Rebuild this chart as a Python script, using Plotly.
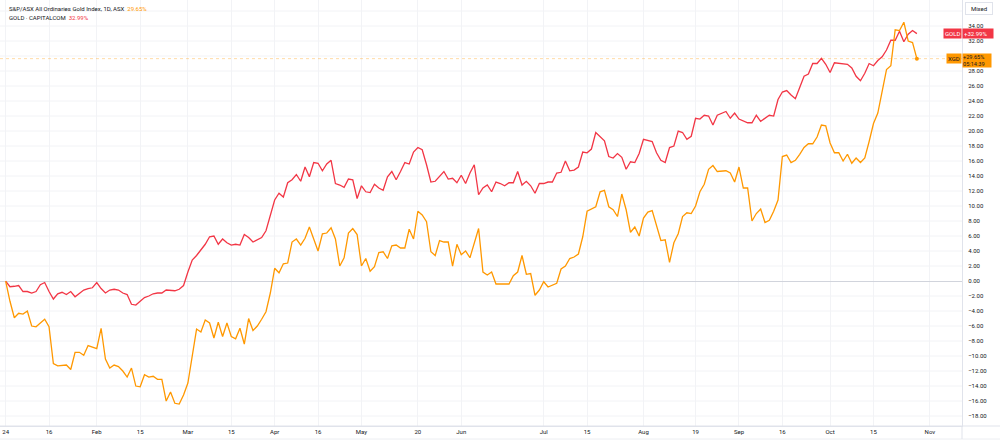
import pandas as pd
import plotly.graph_objects as go

# ---------------- data ----------------
asx_holidays = ["2024-01-26", "2024-03-29", "2024-04-01", "2024-04-25", "2024-06-10"]
dates = pd.bdate_range("2024-01-02", "2024-10-29", freq="C", holidays=asx_holidays)
dates = [d.strftime("%Y-%m-%d") for d in dates]

# S&P/ASX All Ordinaries Gold Index (XGD), % change
xgd = [
    0.0, -2.7, -4.9, -4.3, -4.4, -4.0, -6.0, -6.1, -5.6, -5.1,
    -6.1, -11.0, -11.3, -11.2, -11.2, -11.8, -9.5, -9.5, -9.9, -8.6,
    -8.8, -9.0, -6.3, -10.4, -11.6, -11.2, -11.4, -12.0, -12.8, -11.6,
    -14.0, -14.1, -12.5, -12.8, -12.7, -13.1, -13.1, -16.0, -14.8, -16.3,
    -16.4, -15.2, -13.6, -10.1, -6.4, -6.8, -5.2, -5.6, -7.6, -5.5,
    -7.4, -5.6, -7.4, -7.7, -6.3, -8.4, -5.0,
    -6.6, -6.0, -5.1, -4.1, -1.6, 1.7, 1.1, 2.3, 2.4, 5.2,
    5.6, 4.8, 5.7, 7.2, 5.6, 4.0, 6.3, 6.4, 7.1, 5.6,
    2.0, 3.1, 6.4, 7.0, 6.2, 2.0, 3.0, 1.3, 1.9, 3.8,
    3.9, 3.0, 4.7, 4.8, 4.4, 4.4, 6.9, 5.6, 9.3, 8.8,
    7.9, 3.9, 3.4, 5.4, 5.2, 5.2, 2.0, 4.9, 3.5, 4.0,
    3.1, 5.2, 7.0, 1.2, 0.8, 1.2, -0.4, -0.4,
    -0.4, -0.4, 0.7, 1.2, 3.4, 0.9, 1.0, -1.9, -1.2, -0.1,
    -0.8, -0.6, -0.3, 1.6, 2.0, 3.0, 3.2, 3.6, 5.9, 9.3,
    9.6, 9.9, 11.9, 12.1, 9.9, 9.5, 8.6, 11.6, 9.5, 6.5,
    7.2, 6.0, 8.4, 9.2, 9.4, 7.5, 5.4, 5.5, 2.5, 5.1,
    6.3, 8.6, 9.1, 9.0, 10.0, 11.9, 12.9, 14.9, 15.4, 14.6, 14.7,
    14.7, 14.4, 13.2, 15.2, 12.4, 12.4, 8.0, 9.0, 9.6, 7.8,
    8.1, 9.3, 10.8, 16.6, 16.8, 15.8, 16.1, 16.9, 17.8, 18.3,
    18.3, 19.2, 20.8, 20.7, 18.4, 17.1, 17.1, 16.0, 16.9, 15.7,
    16.4, 15.8, 16.4, 18.6, 21.0, 22.4, 25.2, 28.2, 28.7, 33.5,
    33.4, 34.5, 32.0, 31.8, 29.65,
]

# GOLD (CAPITALCOM), % change
gold = [
    0.0, -0.76, -0.7, -0.6, -1.4, -1.4, -1.6, -1.4, -0.5, -0.2,
    -1.4, -2.4, -1.7, -1.5, -1.8, -1.4, -2.1, -1.7, -1.2, -1.0,
    -0.9, -0.2, -1.0, -1.6, -1.2, -1.1, -1.2, -1.6, -1.8, -3.1,
    -3.2, -2.7, -2.2, -2.0, -1.7, -1.6, -1.6, -1.2, -1.3, -1.3,
    -1.1, -0.6, 1.2, 2.8, 3.4, 4.2, 4.9, 5.9, 6.0, 4.9,
    5.6, 5.1, 4.8, 4.9, 4.8, 6.2, 5.8,
    5.2, 5.5, 5.8, 6.7, 8.6, 10.8, 11.7, 11.2, 13.1, 13.5,
    14.2, 13.3, 15.2, 13.9, 15.8, 15.7, 14.7, 15.6, 16.1, 13.0,
    12.8, 12.5, 13.6, 13.5, 11.0, 12.7, 11.9, 11.8, 12.9, 12.4,
    12.1, 13.9, 14.6, 13.5, 14.6, 15.8, 15.6, 17.2, 17.8, 17.5,
    15.5, 13.2, 13.3, 14.0, 14.6, 13.6, 13.7, 13.1, 14.1, 13.0,
    14.4, 15.5, 11.5, 12.4, 12.8, 11.9, 13.2, 13.0,
    12.7, 13.1, 13.1, 14.6, 12.8, 13.3, 12.7, 11.7, 13.0, 13.0,
    13.2, 13.2, 14.4, 14.5, 16.0, 14.7, 14.8, 15.2, 17.2, 17.1,
    17.6, 19.8, 19.3, 18.7, 16.6, 16.4, 17.0, 16.5, 14.9, 15.9,
    15.8, 17.0, 18.9, 18.8, 18.6, 17.1, 16.1, 15.8, 17.8, 18.0,
    20.0, 19.8, 18.9, 19.3, 21.7, 21.6, 22.1, 22.0, 20.8, 22.1, 22.3,
    22.6, 21.7, 22.4, 21.6, 21.3, 21.1, 21.1, 22.1, 21.3, 21.7,
    22.1, 22.0, 24.2, 25.2, 25.4, 24.8, 24.3, 25.8, 27.3, 27.6,
    29.0, 29.0, 29.7, 28.9, 27.8, 29.1, 29.0, 29.0, 28.9, 28.4,
    27.3, 26.7, 27.7, 29.0, 28.7, 29.4, 29.9, 30.8, 32.1, 32.1,
    33.3, 31.9, 32.9, 33.4, 32.99,
]

tick_dates = ["2024-01-02", "2024-01-16", "2024-02-01", "2024-02-15", "2024-03-01",
              "2024-03-15", "2024-04-02", "2024-04-16", "2024-05-01", "2024-05-20",
              "2024-06-03", "2024-07-01", "2024-07-15", "2024-08-01", "2024-08-19",
              "2024-09-02", "2024-09-16", "2024-10-01", "2024-10-15", "2024-11-01"]
tick_labels = ["24", "16", "Feb", "15", "Mar", "15", "Apr", "16", "May", "20",
               "Jun", "Jul", "15", "Aug", "19", "Sep", "16", "Oct", "15", "Nov"]

# price-scale labels (30% is hidden behind the XGD badge in the reference)
y_ticks = [v for v in range(-18, 35, 2) if v != 30]
y_grid = list(range(-18, 37, 2))

xgd_name = "S&amp;P/ASX All Ordinaries Gold Index, 1D, ASX"
gold_name = "GOLD · CAPITALCOM"
countdown = "05:14:39"

# ---------------- style ----------------
ORANGE = "#FF9800"
RED = "#F23645"
TXT = "#131722"
GRID = "#f2f3f6"
BORDER = "#e0e3eb"
FONT = "Roboto, Arial, sans-serif"

fig = go.Figure()
fig.add_trace(go.Scatter(x=dates, y=gold, mode="lines",
                         line=dict(color=RED, width=1.3), hoverinfo="skip"))
fig.add_trace(go.Scatter(x=dates, y=xgd, mode="lines",
                         line=dict(color=ORANGE, width=1.3), hoverinfo="skip"))
fig.add_trace(go.Scatter(x=[dates[-1]], y=[xgd[-1]], mode="markers",
                         marker=dict(color=ORANGE, size=4), hoverinfo="skip"))

PW, PH = 962.0, 426.0

fig.update_layout(
    width=1000, height=444,
    margin=dict(l=0, r=38, t=0, b=18),
    paper_bgcolor="white", plot_bgcolor="white",
    showlegend=False,
    font=dict(family=FONT, size=6, color=TXT),
    xaxis=dict(
        type="date",
        range=["2023-12-29 16:48", "2024-11-12 09:36"],
        rangebreaks=[dict(bounds=["sat", "mon"]), dict(values=asx_holidays)],
        tickvals=tick_dates, ticktext=tick_labels,
        tickfont=dict(size=6, color=TXT),
        showgrid=True, gridcolor=GRID, gridwidth=1,
        showline=True, linecolor=BORDER, linewidth=1,
        ticks="", zeroline=False, fixedrange=True,
    ),
    yaxis=dict(
        side="right",
        range=[-19.33, 37.47],
        tickvals=y_ticks,
        tickformat=".2f", ticksuffix="%",
        tickfont=dict(size=6, color=TXT),
        showgrid=False,
        zeroline=True, zerolinecolor="#d1d4dc", zerolinewidth=1,
        showline=True, linecolor=BORDER, linewidth=1,
        ticks="outside", ticklen=4, tickcolor="rgba(0,0,0,0)",
        fixedrange=True,
    ),
)

# horizontal grid lines every 2% (including the ones without a label)
for v in y_grid:
    if v == 0:
        continue
    fig.add_shape(type="line", xref="paper", yref="y", x0=0, x1=1, y0=v, y1=v,
                  line=dict(color=GRID, width=1), layer="below")

# bottom axis line extended under price scale, and bottom border
fig.add_shape(type="line", xref="paper", yref="paper", x0=0, x1=1000 / PW, y0=0, y1=0,
              line=dict(color=BORDER, width=1))
fig.add_shape(type="line", xref="paper", yref="paper", x0=0, x1=1000 / PW,
              y0=-13 / PH, y1=-13 / PH, line=dict(color="#eceef2", width=1))
fig.add_shape(type="line", xref="paper", yref="paper", x0=1, x1=1, y0=-13 / PH, y1=0,
              line=dict(color=BORDER, width=1))

# last-value dotted line for XGD
fig.add_shape(type="line", xref="paper", yref="y", x0=0, x1=1, y0=xgd[-1], y1=xgd[-1],
              line=dict(color="rgba(255,152,0,0.35)", width=1, dash="dot"))

# legend header
fig.add_annotation(xref="paper", yref="paper", x=7 / PW, y=1 - 8 / PH,
                   xanchor="left", yanchor="middle", showarrow=False,
                   text=f"{xgd_name}&nbsp; <span style='color:{ORANGE}'>{xgd[-1]:.2f}%</span>",
                   font=dict(size=6, color=TXT, family=FONT))
fig.add_annotation(xref="paper", yref="paper", x=7 / PW, y=1 - 17 / PH,
                   xanchor="left", yanchor="middle", showarrow=False,
                   text=f"{gold_name}&nbsp; <span style='color:{RED}'>{gold[-1]:.2f}%</span>",
                   font=dict(size=6, color=TXT, family=FONT))

# price scale badges
fig.add_annotation(xref="paper", yref="y", x=1, y=gold[-1], xanchor="right", yanchor="middle",
                   showarrow=False, text="GOLD", bgcolor=RED, borderpad=1,
                   font=dict(size=6, color="white", family=FONT))
fig.add_annotation(xref="paper", yref="y", x=1, y=gold[-1], xanchor="left", yanchor="middle",
                   showarrow=False, text=f"+{gold[-1]:.2f}%", bgcolor=RED, borderpad=1,
                   width=28, align="left",
                   font=dict(size=6, color="white", family=FONT))
fig.add_annotation(xref="paper", yref="y", x=1, y=xgd[-1], xanchor="right", yanchor="middle",
                   showarrow=False, text="XGD", bgcolor=ORANGE, borderpad=1,
                   font=dict(size=6, color=TXT, family=FONT))
fig.add_annotation(xref="paper", yref="y", x=1, y=xgd[-1], xanchor="left", yanchor="top",
                   yshift=6,
                   showarrow=False, text=f"+{xgd[-1]:.2f}%<br>{countdown}", bgcolor=ORANGE,
                   borderpad=0, width=28, align="left",
                   font=dict(size=5.6, color=TXT, family=FONT))

# "Mixed" button
fig.add_annotation(xref="paper", yref="paper", x=979 / PW, y=1 - 9 / PH,
                   xanchor="center", yanchor="middle", showarrow=False,
                   text="Mixed", bgcolor="white", bordercolor=BORDER, borderwidth=1,
                   borderpad=2, width=22,
                   font=dict(size=6, color=TXT, family=FONT))

fig.write_html("out.html")
